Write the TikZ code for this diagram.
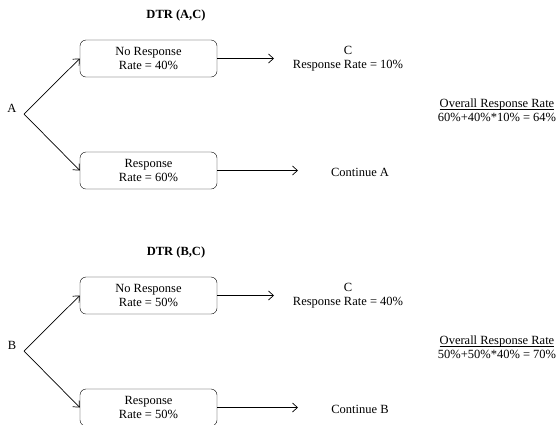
\documentclass[tikz,border=0pt]{standalone}
\usepackage{fontspec}
\setmainfont{Liberation Serif}
\usepackage{tikz}
\usetikzlibrary{positioning,arrows.meta}

\newcommand{\ulrate}[1]{\underline{\smash{#1}}}

\begin{document}
\begin{tikzpicture}[
    x=1pt, y=1pt,
    >={Straight Barb[length=5pt,width=9pt]},
    font=\fontsize{12.5}{14}\selectfont,
    box/.style   = {draw, rounded corners=6pt, align=center,
                    minimum width=137pt, minimum height=37pt},
    ttl/.style   = {font=\fontsize{12.5}{14}\selectfont\bfseries},
    txt/.style   = {align=center, inner sep=1pt},
    arr/.style   = {->, line width=0.7pt},
]
\useasboundingbox (0,0) rectangle (556,-424);

%% ── DTR (A,C) ─────────────────────────────────────────────────────────────
\node[ttl] (t1) at (176,-15) {DTR (A,C)};
\node[txt] (a) at (12,-108) {A};
\coordinate (sa) at (24,-114);

\node[box] (nr1) at (148.5,-58.5)  {No Response\\Rate = 40\%};
\node[box] (rs1) at (148.5,-170.5) {Response\\Rate = 60\%};

\draw[arr] (sa) -- (nr1.west);
\draw[arr] (sa) -- (rs1.west);

\node[txt] (c1) at (348,-59) {C\\Response Rate = 10\%};
\coordinate (e1) at (274,-58.5);
\draw[arr] (nr1.east) -- (e1);

\node[txt] (k1) at (360,-172) {Continue A};
\coordinate (f1) at (298,-170.5);
\draw[arr] (rs1.east) -- (f1);

\node[txt] (o1) at (497,-115) {\ulrate{Overall Response Rate}\\60\%+40\%*10\% = 64\%};

%% ── DTR (B,C) ─────────────────────────────────────────────────────────────
\node[ttl] (t2) at (176,-252) {DTR (B,C)};
\node[txt] (b) at (12,-345) {B};
\coordinate (sb) at (24,-351);

\node[box] (nr2) at (148.5,-295.5) {No Response\\Rate = 50\%};
\node[box] (rs2) at (148.5,-407.5) {Response\\Rate = 50\%};

\draw[arr] (sb) -- (nr2.west);
\draw[arr] (sb) -- (rs2.west);

\node[txt] (c2) at (348,-296) {C\\Response Rate = 40\%};
\coordinate (e2) at (274,-295.5);
\draw[arr] (nr2.east) -- (e2);

\node[txt] (k2) at (360,-409) {Continue B};
\coordinate (f2) at (298,-407.5);
\draw[arr] (rs2.east) -- (f2);

\node[txt] (o2) at (497,-352) {\ulrate{Overall Response Rate}\\50\%+50\%*40\% = 70\%};

\end{tikzpicture}
\end{document}
